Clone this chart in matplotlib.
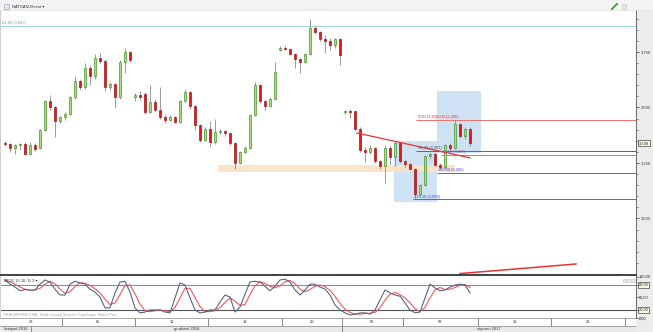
import matplotlib
matplotlib.use("Agg")
import matplotlib.pyplot as plt
from matplotlib.patches import Rectangle
from matplotlib.lines import Line2D
from matplotlib.transforms import blended_transform_factory as blend
import numpy as np

plt.rcParams['font.family'] = ['Liberation Sans', 'DejaVu Sans']

# ---------------- data ----------------
opens = [3.340, 3.335, 3.318, 3.330, 3.335, 3.290, 3.330, 3.318, 3.400, 3.530,
         3.500, 3.440, 3.455, 3.470, 3.545, 3.620, 3.592, 3.680, 3.640, 3.722,
         3.710, 3.590, 3.605, 3.545, 3.705, 3.748, 3.545, 3.555, 3.560, 3.480,
         3.525, 3.490, 3.455, 3.445, 3.455, 3.435, 3.530, 3.570, 3.505, 3.420,
         3.355, 3.405, 3.345, 3.390, 3.395, 3.385, 3.340, 3.250, 3.300, 3.318,
         3.466, 3.600, 3.530, 3.505, 3.540, 3.760, 3.768, 3.765, 3.740, 3.720,
         3.705, 3.740, 3.860, 3.840, 3.810, 3.800, 3.780, 3.810, 3.478, 3.485,
         3.482, 3.405, 3.310, 3.300, 3.318, 3.258, 3.235, 3.318, 3.278, 3.340,
         3.258, 3.245, 3.225, 3.110, 3.150, 3.280, 3.290, 3.242, 3.230, 3.330,
         3.318, 3.425, 3.370, 3.405]
highs = [3.350, 3.340, 3.335, 3.342, 3.345, 3.345, 3.340, 3.405, 3.535, 3.555,
         3.505, 3.460, 3.480, 3.550, 3.640, 3.630, 3.700, 3.690, 3.740, 3.745,
         3.715, 3.615, 3.610, 3.712, 3.770, 3.755, 3.565, 3.575, 3.568, 3.600,
         3.540, 3.590, 3.470, 3.465, 3.460, 3.535, 3.585, 3.575, 3.510, 3.425,
         3.410, 3.440, 3.450, 3.405, 3.400, 3.390, 3.345, 3.305, 3.325, 3.470,
         3.615, 3.605, 3.535, 3.545, 3.705, 3.775, 3.780, 3.770, 3.745, 3.725,
         3.745, 3.900, 3.865, 3.845, 3.825, 3.815, 3.815, 3.815, 3.490, 3.492,
         3.485, 3.410, 3.320, 3.330, 3.322, 3.262, 3.330, 3.325, 3.345, 3.345,
         3.265, 3.250, 3.228, 3.155, 3.285, 3.300, 3.295, 3.248, 3.335, 3.338,
         3.445, 3.432, 3.410, 3.410]
lows = [3.325, 3.300, 3.290, 3.310, 3.285, 3.285, 3.305, 3.312, 3.395, 3.490,
        3.365, 3.430, 3.445, 3.465, 3.540, 3.580, 3.585, 3.600, 3.630, 3.700,
        3.575, 3.580, 3.498, 3.540, 3.655, 3.705, 3.530, 3.535, 3.470, 3.475,
        3.485, 3.450, 3.430, 3.440, 3.430, 3.430, 3.525, 3.495, 3.400, 3.345,
        3.350, 3.320, 3.335, 3.380, 3.370, 3.330, 3.225, 3.245, 3.295, 3.315,
        3.460, 3.520, 3.490, 3.500, 3.535, 3.755, 3.758, 3.735, 3.680, 3.655,
        3.700, 3.735, 3.830, 3.800, 3.745, 3.760, 3.770, 3.690, 3.470, 3.453,
        3.400, 3.300, 3.255, 3.290, 3.250, 3.225, 3.160, 3.245, 3.235, 3.250,
        3.232, 3.218, 3.092, 3.100, 3.145, 3.270, 3.236, 3.222, 3.225, 3.305,
        3.312, 3.362, 3.360, 3.325]
closes = [3.335, 3.318, 3.330, 3.335, 3.290, 3.330, 3.315, 3.400, 3.530, 3.500,
          3.440, 3.455, 3.470, 3.545, 3.620, 3.590, 3.680, 3.640, 3.722, 3.710,
          3.590, 3.605, 3.545, 3.705, 3.748, 3.714, 3.555, 3.548, 3.480, 3.525,
          3.490, 3.455, 3.445, 3.455, 3.435, 3.530, 3.570, 3.505, 3.420, 3.355,
          3.405, 3.345, 3.390, 3.395, 3.385, 3.340, 3.250, 3.300, 3.318, 3.466,
          3.600, 3.530, 3.505, 3.540, 3.660, 3.768, 3.765, 3.740, 3.720, 3.705,
          3.740, 3.860, 3.840, 3.810, 3.800, 3.780, 3.810, 3.736, 3.485, 3.478,
          3.405, 3.310, 3.300, 3.318, 3.258, 3.235, 3.318, 3.278, 3.340, 3.258,
          3.245, 3.225, 3.110, 3.150, 3.280, 3.290, 3.242, 3.230, 3.330, 3.318,
          3.425, 3.370, 3.405, 3.338]

stoch_k = [93, 82, 75, 66, 69, 68, 68, 82, 92, 87,
           70, 56, 56, 82, 89, 85, 82, 70, 63, 51,
           25, 25, 61, 87, 89, 63, 25, 13, 15, 20,
           20, 20, 15, 13, 49, 85, 80, 49, 20, 13,
           15, 20, 20, 39, 56, 51, 15, 27, 58, 87,
           89, 87, 77, 66, 77, 92, 94, 87, 68, 56,
           68, 82, 82, 75, 70, 56, 32, 20, 13, 8,
           10, 13, 13, 10, 20, 44, 68, 61, 56, 53,
           37, 20, 13, 15, 49, 82, 73, 66, 68, 75,
           80, 82, 80, 61]
stoch_d = [90, 88, 82, 75, 70, 67, 68, 72, 82, 89,
           83, 70, 60, 64, 76, 86, 84, 79, 71, 61,
           46, 33, 37, 57, 79, 80, 59, 34, 18, 16,
           18, 20, 18, 16, 26, 49, 72, 72, 50, 28,
           16, 16, 18, 26, 38, 49, 41, 31, 33, 57,
           78, 88, 84, 77, 73, 78, 88, 91, 83, 70,
           64, 69, 77, 80, 76, 67, 53, 36, 22, 14,
           10, 10, 12, 12, 14, 25, 44, 58, 62, 57,
           49, 37, 23, 16, 26, 49, 68, 74, 69, 70,
           74, 79, 81, 74]

week_labels = ['28', '05', '12', '19', '26', '02', '09', '16', '23']
week_bounds = [-1.0, 11.4, 26.0, 40.6, 55.4, 67.4, 79.6, 94.6, 109.2, 124.0]
month_labels = ['listopad 2016', 'grudzień 2016', 'styczeń 2017']
month_bounds = [-1.0, 5.2, 67.4, 126.2]

price_ticks = [3.000, 3.250, 3.500, 3.750]
price_tick_labels = ['3,000', '3,250', '3,500', '3,750']
stoch_ticks = [100, 80, 50, 20, 0]
stoch_tick_labels = ['100,00', '80,00', '50,00', '20,00', '0,00']
last_price = 3.338
last_price_label = '3,338'

top_level = 3.867
top_level_label = '61,80 (3,867)'
fib_values = [3.445, 3.303, 3.288, 3.205, 3.086]
fib_labels = ['0,00 (3,44)0,00 (3,445)', '38,20 (3,307)', '61,80 (3,295)',
              '100,00 (3,205)', '138,20 (3,090)']
fib_start = [82.2, 82.2, 87.2, 86.4, 81.6]

zone_price = (3.209, 3.241)
zone_idx = (42.6, 90.0)
box1 = ((77.8, 86.4), (3.074, 3.349))
box2 = ((86.4, 95.2), (3.295, 3.574))
trend1 = ((70.4, 93.0), (3.385, 3.273))
trend2 = ((91.0, 114.2), (2.752, 2.795))

# ---------------- layout ----------------
W, H = 653, 332
fig = plt.figure(figsize=(W / 100, H / 100), dpi=100)
fig.patch.set_facecolor('white')


def frac_rect(x0, y0, x1, y1):
    return [x0 / W, 1 - y1 / H, (x1 - x0) / W, (y1 - y0) / H]


XMIN, XMAX = -1, 126.2
FS = 2.9
AXC = '#333333'

# right axis strip + header band
fig.add_artist(Rectangle((636 / W, 0), 17 / W, 1, transform=fig.transFigure,
                         facecolor='#ececec', edgecolor='none', zorder=-1))
fig.add_artist(Rectangle((0, 1 - 10 / H), 1, 10 / H, transform=fig.transFigure,
                         facecolor='#f3f3f3', edgecolor='none', zorder=-1))
fig.add_artist(Line2D([0, 1], [1 - 10 / H, 1 - 10 / H], transform=fig.transFigure,
                      color='#dcdcdc', lw=0.5))
fig.text(12 / W, 1 - 6.5 / H, 'NATGASUScent \u25BE', fontsize=FS, color='#333',
         va='center', ha='left')
fig.add_artist(Rectangle((4 / W, 1 - 9 / H), 5 / W, 5 / H, transform=fig.transFigure,
                         facecolor='#dfe7f0', edgecolor='#8aa0b8', lw=0.4))
fig.add_artist(Line2D([612 / W, 617 / W], [1 - 9 / H, 1 - 4 / H], transform=fig.transFigure,
                      color='#39a020', lw=1.3))
fig.add_artist(Rectangle((622 / W, 1 - 8.5 / H), 4 / W, 4 / H, transform=fig.transFigure,
                         facecolor='#e2e2e2', edgecolor='#c8c8c8', lw=0.4))

# ---------------- main price panel ----------------
ax = fig.add_axes(frac_rect(0, 10, 636, 274))
ax.set_xlim(XMIN, XMAX)
ax.set_ylim(2.75, 3.939)
ax.set_facecolor('white')
for s in ['top', 'bottom']:
    ax.spines[s].set_visible(False)
ax.spines['left'].set_color('#d0d0d0')
ax.spines['left'].set_linewidth(0.8)
ax.spines['right'].set_color('#555555')
ax.spines['right'].set_linewidth(0.6)
ax.set_xticks([])
ax.yaxis.tick_right()
ax.set_yticks(price_ticks)
ax.set_yticklabels(price_tick_labels)
ax.set_yticks(np.arange(2.80, 3.94, 0.05), minor=True)
ax.tick_params(axis='y', which='major', length=2.5, width=0.5, pad=1,
               labelsize=FS, colors=AXC)
ax.tick_params(axis='y', which='minor', length=1.3, width=0.4, colors=AXC)

# background annotations
(bx0, bx1), (by0, by1) = box1
ax.add_patch(Rectangle((bx0, by0), bx1 - bx0, by1 - by0, facecolor='#cfe2f3',
                       edgecolor='none', zorder=1))
(bx0, bx1), (by0, by1) = box2
ax.add_patch(Rectangle((bx0, by0), bx1 - bx0, by1 - by0, facecolor='#cfe2f3',
                       edgecolor='none', zorder=1))
ax.add_patch(Rectangle((zone_idx[0], zone_price[0]), zone_idx[1] - zone_idx[0],
                       zone_price[1] - zone_price[0], facecolor='#fbe1c4',
                       edgecolor='none', alpha=0.9, zorder=1.5))

ax.hlines(top_level, XMIN, XMAX, color='#a9d9d6', lw=0.9, zorder=2)
ax.text(XMIN + 0.4, top_level + 0.004, top_level_label, fontsize=FS,
        color='#5aa8a4', va='bottom', ha='left')

fib_colors = ['#f07070', '#666666', '#c070d0', '#5a5af0', '#5a5af0']
fib_text_colors = ['#e03030', '#444444', '#a050c0', '#4040e0', '#4040e0']
for v, xs, c in zip(fib_values, fib_start, fib_colors):
    ax.hlines(v, xs, XMAX, color=c, lw=0.7, zorder=2.5)
for v, lab, xs, tc in zip(fib_values, fib_labels, fib_start, fib_text_colors):
    ax.text(xs + 0.3, v + 0.004, lab, fontsize=FS, color=tc, va='bottom', ha='left',
            zorder=6)

# candles
idx = np.arange(len(closes))
o = np.array(opens); c = np.array(closes); h = np.array(highs); l = np.array(lows)
up = c >= o
ax.vlines(idx, l, h, color='#8a8a8a', lw=0.6, zorder=3)
body_bottom = np.minimum(o, c)
body_h = np.maximum(np.abs(c - o), 0.004)
ax.bar(idx[up], body_h[up], bottom=body_bottom[up], width=0.48,
       color='#a8de7e', edgecolor='#3f8a22', lw=0.45, zorder=4)
ax.bar(idx[~up], body_h[~up], bottom=body_bottom[~up], width=0.48,
       color='#e4161e', edgecolor='#9a0c0c', lw=0.45, zorder=4)

# trend lines
ax.plot(trend1[0], trend1[1], color='#e83434', lw=0.9, zorder=5)
ax.plot(trend2[0], trend2[1], color='#e83434', lw=1.1, zorder=5, clip_on=False)

# last price box
ax.text(1.004, last_price, last_price_label, transform=blend(ax.transAxes, ax.transData),
        fontsize=FS, color='#222', va='center', ha='left', zorder=10, clip_on=False,
        bbox=dict(boxstyle='square,pad=0.25', facecolor='#fbf8e4', edgecolor='#444', lw=0.5))

# ---------------- stochastic panel ----------------
axs = fig.add_axes(frac_rect(0, 275, 636, 318.3))
axs.set_xlim(XMIN, XMAX)
axs.set_ylim(0, 104)
axs.set_facecolor('white')
axs.spines['top'].set_color('#333333')
axs.spines['top'].set_linewidth(1.3)
axs.spines['bottom'].set_visible(False)
axs.spines['left'].set_color('#d0d0d0')
axs.spines['right'].set_color('#555555')
axs.spines['right'].set_linewidth(0.6)
axs.set_xticks([])
axs.yaxis.tick_right()
axs.set_yticks(stoch_ticks)
axs.set_yticklabels([''] * len(stoch_ticks))
axs.tick_params(axis='y', length=2.0, width=0.4, colors=AXC, pad=1)
axs.axhline(80, color='#e46060', lw=0.7)
axs.axhline(20, color='#555555', lw=0.8)
axs.plot(idx, stoch_d, color='#f25858', lw=0.8, zorder=3)
axs.plot(idx, stoch_k, color='#56648a', lw=0.8, zorder=4)
tr = blend(axs.transAxes, axs.transData)
for v, lab in zip(stoch_ticks, stoch_tick_labels):
    boxed = v in (80, 20)
    axs.text(1.004, v, lab, transform=tr, fontsize=FS, color='#222', va='center',
             ha='left', clip_on=False,
             bbox=dict(boxstyle='square,pad=0.2', facecolor='#fbf8e4', edgecolor='#444',
                       lw=0.5) if boxed else None)
axs.text(XMIN + 0.8, 90, 'STOC (5,30, 3) 3 \u25BE', fontsize=FS, color='#333',
         va='center', ha='left', zorder=6)
axs.text(XMIN + 0.6, 2, 'CENA ORIENTACYJNA - Strefa czasowa: Brussels, Copenhagen, Madrid, Paris',
         fontsize=2.3, color='#a0a0a0', va='bottom', ha='left')
for xx in (123.6, 125.0):
    axs.add_patch(Rectangle((xx, 86), 0.9, 9, facecolor='#e4e4e4', edgecolor='#c4c4c4',
                            lw=0.4, zorder=6))

# ---------------- date axis ----------------
axd = fig.add_axes(frac_rect(0, 318.3, 636, 332))
axd.set_xlim(XMIN, XMAX)
axd.set_ylim(0, 13.7)
axd.axis('off')
axd.axhspan(0, 6, color='#e9e9e9', zorder=0)
axd.axhline(6, color='#9a9a9a', lw=0.6)
axd.axhline(13.6, color='#9a9a9a', lw=0.6)
axd.vlines(week_bounds[1:], 6, 13.7, color='#777777', lw=0.6)
axd.vlines(month_bounds[1:-1], 0, 6, color='#777777', lw=0.6)
for a, b, lab in zip(week_bounds[:-1], week_bounds[1:], week_labels):
    axd.text((a + b) / 2, 9.8, lab, fontsize=FS, color='#333', ha='center', va='center')
for a, b, lab in zip(month_bounds[:-1], month_bounds[1:], month_labels):
    axd.text((a + b) / 2, 3.0, lab, fontsize=FS, color='#333', ha='center', va='center')

fig.savefig('out.png', dpi=100)
